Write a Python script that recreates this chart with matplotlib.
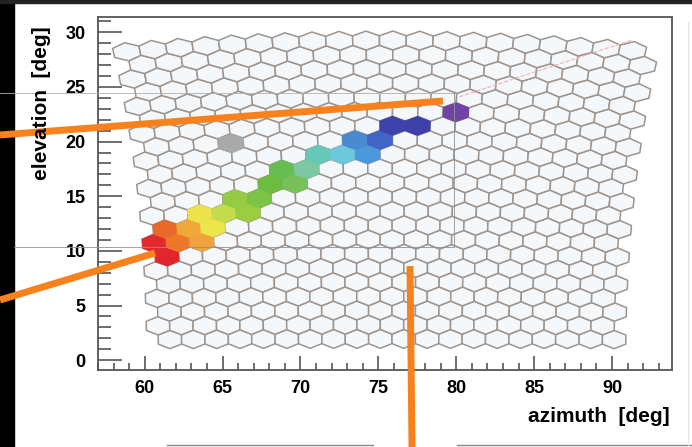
import numpy as np
import matplotlib
matplotlib.use('Agg')
from matplotlib import pyplot as plt
from matplotlib.collections import PolyCollection
from matplotlib.lines import Line2D
from matplotlib.patches import Rectangle

# camera geometry (deg)
n_rows = 22
n_cols = 20
pix_dx = 1.5
pix_dy = 1.3
az_axis = 75.5
el_axis = 15.6

# triggered pixels (row, column) along the track, and their colour
hit_rows = [6, 7, 8, 7, 8, 7, 9, 8, 9, 10, 9, 10, 11, 11, 12, 12, 13, 13, 13, 14, 14, 15, 15, 16]
hit_cols = [0, 0, 0, 1, 1, 2, 2, 2, 3, 3, 4, 4, 5, 6, 5, 6, 7, 8, 9, 8, 9, 10, 11, 12]
hit_colors = ['#e2262c', '#e02a2c', '#e8692a', '#ee7826', '#f0a838', '#f2a23c',
              '#ece44a', '#ece64a', '#c4dc4c', '#96cc44', '#9ccc40', '#7cc448',
              '#6cbc40', '#78c058', '#68bc50', '#7cc8a0', '#68c8b8', '#6cc8dc',
              '#4c98dc', '#4a8ad0', '#4264c4', '#3c44ac', '#3c40a8', '#7044a4']
# pixel shown grey
off_rows = [14]
off_cols = [3]

x_ticks = [60, 65, 70, 75, 80, 85, 90]
y_ticks = [0, 5, 10, 15, 20, 25, 30]


def cam_to_sky(x, y):
    x = np.radians(x)
    e = np.radians(el_axis + y)
    el = np.degrees(np.arcsin(np.cos(x) * np.sin(e)))
    az = az_axis + np.degrees(np.arctan2(np.sin(x), np.cos(x) * np.cos(e)))
    return az, el


def pixel_hex(r, c):
    off = 0.375 if r % 2 == 0 else -0.375
    xc = (c - (n_cols - 1) / 2) * pix_dx + off
    yc = (r - (n_rows - 1) / 2) * pix_dy
    u = np.array([0, 1, 1, 0, -1, -1]) * pix_dx / 2
    v = np.array([2, 1, -1, -2, -1, 1]) * pix_dy / 3
    az, el = cam_to_sky(xc + u, yc + v)
    return np.column_stack([az, el])


W, H = 692, 447
fig = plt.figure(figsize=(W / 100, H / 100), dpi=100)
fig.patch.set_facecolor('white')
ax = fig.add_axes([98 / W, (H - 370) / H, (672 - 98) / W, (370 - 17) / H])
ax.set_facecolor('white')

polys = [pixel_hex(r, c) for r in range(n_rows) for c in range(n_cols)]
ax.add_collection(PolyCollection(polys, facecolors='#f5f8fb', edgecolors='#9d948e', linewidths=1.1))

hits = [pixel_hex(r, c) for r, c in zip(hit_rows, hit_cols)]
ax.add_collection(PolyCollection(hits, facecolors=hit_colors, edgecolors=hit_colors, linewidths=0.6))
offs = [pixel_hex(r, c) for r, c in zip(off_rows, off_cols)]
ax.add_collection(PolyCollection(offs, facecolors='#a9a9a9', edgecolors='#a9a9a9', linewidths=0.6))

# faint SDP line
ax.plot([80.2, 91.3], [24.1, 29.3], ls='--', color='#f2b0b0', lw=0.8)

ax.set_xlim(57, 93.85)
ax.set_ylim(-0.9, 31.4)
ax.set_xticks(x_ticks)
ax.set_yticks(y_ticks)
ax.set_xticks(np.arange(57, 94), minor=True)
ax.set_yticks(np.arange(0, 32), minor=True)
ax.tick_params(which='both', direction='in', color='#555555', width=1.2)
ax.tick_params(axis='y', which='major', length=17, pad=9)
ax.tick_params(axis='y', which='minor', length=9)
ax.tick_params(axis='x', which='major', length=10, pad=7)
ax.tick_params(axis='x', which='minor', length=5)
for lab in ax.get_xticklabels() + ax.get_yticklabels():
    lab.set_fontfamily('Liberation Sans')
    lab.set_fontweight('bold')
    lab.set_fontsize(13)
for s in ax.spines.values():
    s.set_color('#555555')
    s.set_linewidth(1.3)

fig.text(42 / W, 1 - 103 / H, 'elevation  [deg]', rotation=90, ha='center', va='center',
         fontsize=15, fontweight='bold', family='Liberation Sans')
fig.text(670 / W, 1 - 417 / H, 'azimuth  [deg]', ha='right', va='center',
         fontsize=15, fontweight='bold', family='Liberation Sans')


def px_line(xs, ys, **kw):
    fig.add_artist(Line2D([x / W for x in xs], [1 - y / H for y in ys], transform=fig.transFigure, **kw))


# slide decorations
fig.add_artist(Rectangle((0, 0), 14 / W, 1, transform=fig.transFigure, color='black', zorder=0))
fig.add_artist(Rectangle((0, 1 - 2.5 / H), 1, 2.5 / H, transform=fig.transFigure, color='#222222', zorder=0))
px_line([0, 454], [93, 93], color='#b0b0b0', lw=0.6)
px_line([454, 454], [93, 247], color='#909090', lw=0.6)
px_line([14, 454], [247, 247], color='#909090', lw=0.6)
px_line([167, 373], [445, 445], color='#888888', lw=1.0)
px_line([457, 692], [445, 445], color='#888888', lw=1.0)
px_line([688, 688], [22, 447], color='#e4e4e4', lw=0.8)

orange = '#f7811c'
px_line([0, 443], [135, 101], color=orange, lw=5, solid_capstyle='butt')
px_line([0, 155], [300, 253], color=orange, lw=5, solid_capstyle='butt')
px_line([410, 412], [266, 447], color=orange, lw=5, solid_capstyle='butt')

fig.savefig('out.png', dpi=100)
